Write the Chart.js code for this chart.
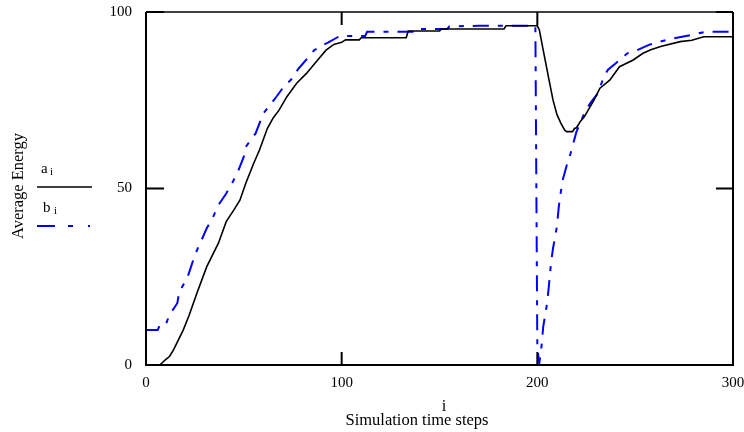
<!DOCTYPE html>
<html><head><meta charset="utf-8">
<script src="https://cdn.jsdelivr.net/npm/chart.js@4/dist/chart.umd.min.js"></script>
<style>html,body{margin:0;padding:0;background:#fff}#wrap{width:744px;height:432px}</style>
</head><body><div id="wrap"><canvas id="c" width="744" height="432"></canvas></div>
<script>
const xTicks = [0, 100, 200, 300];
const yTicks = [0, 50, 100];

const aSteps = [0,7,8,10,12,14,16,19,22,26,31,37,41,45,48,51,55,58,62,65,68,72,77,82,87,92,96,100,102,109,110,133,134,150,151,183,184,200,201,203,206,208,210,212,214,215,218,219,220,222,224,229,232,237,242,249,254,258,263,273,279,285,300];
const aEnergy = [0,0,0.5,1.5,2.4,4.2,6.5,9.9,14,20.3,27.8,34.5,40.6,44,46.7,51.5,57.1,60.9,67,70,72.2,76,79.8,82.6,85.9,89.2,90.8,91.4,92.1,92.1,92.7,92.7,94.6,94.6,95.2,95.2,96.1,96.1,95,89.2,80.7,75.1,71,68.5,66.5,66.1,66.1,67,67.2,69,70.3,75.1,78.4,80.7,84.5,86.4,88.3,89.3,90.2,91.6,92,93,93];

const bSteps = [0,6,7,10,12,16,17,21,23,25,28,31,34,37,41,44,47,50,51,56,60,66,71,74,78,84,86,90,93,99,112,113,137,138,154,155,170,199,200,201,202,203,205,206,207,208,210,211,212,213,215,217,218,220,224,227,231,234,236,241,246,251,257,266,276,286,300];
const bEnergy = [9.9,9.9,11.3,11.3,14.2,17.5,20.8,24.5,27.8,31.2,34.9,38.7,41.6,45.3,48.6,51.5,54.8,59,61.8,65.6,71.3,75.5,79.3,80.7,84,87.8,89.2,90.5,91.3,93.2,93.2,94.4,94.4,95.2,95.2,95.9,96.1,96.1,5,0.5,4.5,10.8,17.5,23,29,33,39.2,45,49,52.5,56.5,60,62,66.1,71.3,74.1,77,81.7,83.6,85.9,88.3,89.2,90.7,92.1,93.2,94.4,94.4];

const seriesA = aSteps.map((x, k) => ({x: x, y: aEnergy[k]}));
const seriesB = bSteps.map((x, k) => ({x: x, y: bEnergy[k]}));

const SERIF = '"Liberation Serif", "DejaVu Serif", serif';

const decor = {
  id: 'decor',
  afterDatasetsDraw(chart) {
    const ctx = chart.ctx;
    const xs = chart.scales.x, ys = chart.scales.y;
    const L = chart.chartArea.left, R = chart.chartArea.right, T = chart.chartArea.top, B = chart.chartArea.bottom;
    ctx.save();
    ctx.strokeStyle = '#000';
    ctx.setLineDash([]);
    ctx.lineWidth = 2;
    ctx.beginPath();
    ctx.moveTo(L, T); ctx.lineTo(L, B); ctx.lineTo(R, B); ctx.lineTo(R, T);
    ctx.stroke();
    ctx.lineWidth = 1.5;
    ctx.beginPath(); ctx.moveTo(L, T); ctx.lineTo(R, T); ctx.stroke();
    ctx.lineWidth = 2;
    ctx.beginPath();
    yTicks.forEach(v => {
      const y = ys.getPixelForValue(v);
      ctx.moveTo(L, y); ctx.lineTo(L + 18, y);
      ctx.moveTo(R, y); ctx.lineTo(R - 17, y);
    });
    xTicks.forEach(v => {
      const x = xs.getPixelForValue(v);
      ctx.moveTo(x, B); ctx.lineTo(x, B - 13);
      ctx.moveTo(x, T); ctx.lineTo(x, T + 13);
    });
    ctx.stroke();
    ctx.restore();
  },
  afterDraw(chart) {
    const ctx = chart.ctx;
    ctx.save();
    ctx.fillStyle = '#000';
    ctx.save();
    ctx.translate(23, 186);
    ctx.rotate(-Math.PI / 2);
    ctx.font = '16.5px ' + SERIF;
    ctx.textAlign = 'center';
    ctx.textBaseline = 'alphabetic';
    ctx.fillText('Average Energy', 0, 0);
    ctx.restore();
    ctx.font = '16.5px ' + SERIF;
    ctx.textAlign = 'center';
    ctx.textBaseline = 'alphabetic';
    ctx.fillText('i', 444, 411);
    ctx.fillText('Simulation time steps', 417, 425);
    ctx.textAlign = 'left';
    ctx.font = '15px ' + SERIF;
    ctx.fillText('a', 41, 173);
    ctx.fillText('b', 43, 212);
    ctx.font = '11px ' + SERIF;
    ctx.fillText('i', 50, 175);
    ctx.fillText('i', 54, 214);
    ctx.lineWidth = 1.5;
    ctx.strokeStyle = '#000';
    ctx.beginPath(); ctx.moveTo(37, 187); ctx.lineTo(92, 187); ctx.stroke();
    ctx.strokeStyle = '#0000ff';
    ctx.lineWidth = 2;
    ctx.setLineDash([18, 13, 5, 15, 2, 40]);
    ctx.beginPath(); ctx.moveTo(37, 226); ctx.lineTo(92, 226); ctx.stroke();
    ctx.restore();
  }
};

new Chart(document.getElementById('c'), {
  type: 'line',
  data: {
    datasets: [
      { label: 'a', data: seriesA, borderColor: '#000000', borderWidth: 1.6, pointRadius: 0, fill: false, tension: 0 },
      { label: 'b', data: seriesB, borderColor: '#0000ff', borderWidth: 2, borderDash: [16, 9, 5, 9], pointRadius: 0, fill: false, tension: 0 }
    ]
  },
  options: {
    responsive: false,
    devicePixelRatio: 1,
    animation: false,
    layout: { padding: { left: 0, top: 12, right: 11, bottom: 0 } },
    plugins: { legend: { display: false }, tooltip: { enabled: false } },
    scales: {
      x: {
        type: 'linear', min: 0, max: 300,
        afterBuildTicks: s => { s.ticks = xTicks.map(v => ({ value: v })); },
        afterFit: s => { s.height = 67; s.paddingLeft = 0; s.paddingRight = 0; },
        grid: { display: false, drawTicks: false },
        border: { display: false },
        ticks: { color: '#000', font: { family: SERIF, size: 15 }, padding: 9, maxRotation: 0, autoSkip: false }
      },
      y: {
        type: 'linear', min: 0, max: 100,
        afterBuildTicks: s => { s.ticks = yTicks.map(v => ({ value: v })); },
        afterFit: s => { s.width = 146; s.paddingTop = 0; s.paddingBottom = 0; },
        grid: { display: false, drawTicks: false },
        border: { display: false },
        ticks: { color: '#000', font: { family: SERIF, size: 15 }, padding: 14, autoSkip: false }
      }
    }
  },
  plugins: [decor]
});
</script>
</body></html>
